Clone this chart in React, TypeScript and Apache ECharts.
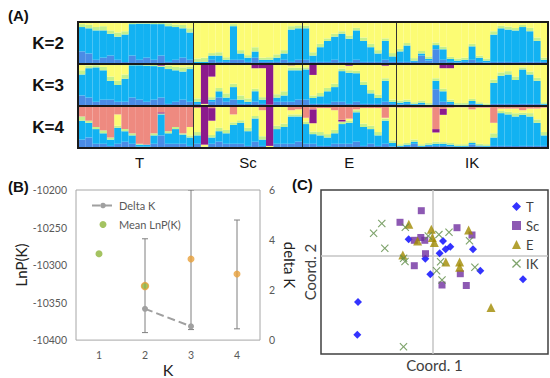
import React, { useEffect, useRef } from "react";
import * as echarts from "echarts";

// ---------- Panel A: STRUCTURE membership (fraction of each individual) ----------
const populations = ["T", "Sc", "E", "IK"];
const popSizes = [16, 15, 13, 21];

// K = 2 (yellow = remainder)
const k2MBlue = [0.3,0.25,0.1,0.15,0.2,0.1,0.05,0.2,0.1,0.15,0.1,0.2,0.05,0.1,0.15,0.1, 0,0,0.1,0.05,0.05,0.1,0.1,0.05,0.15,0.05,0.05,0.05,0.1,0.05,0.1, 0.1,0.05,0.05,0.05,0.1,0.05,0.05,0.1,0.05,0.05,0.05,0.1,0.05, 0.05,0.05,0.05,0.2,0.08,0.35,0.1,0.05,0.04,0.05,0.1,0.05,0.04,0.05,0.05,0.05,0.05,0.05,0.05,0.05,0.05];
const k2Blue = [0.58,0.6,0.7,0.65,0.52,0.55,0.65,0.75,0.86,0.81,0.85,0.75,0.85,0.78,0.7,0.65, 0.05,0.05,0.1,0.15,0.05,0.8,0.15,0.1,0.15,0.05,0.05,0.1,0.15,0.77,0.75, 0.75,0.15,0.35,0.5,0.55,0.67,0.55,0.7,0.5,0.35,0.2,0.45,0.13, 0.25,0.39,0.03,0.05,0.04,0.1,0.25,0.07,0.04,0.05,0.32,0.1,0.04,0.65,0.8,0.77,0.75,0.83,0.73,0.5,0.05];
const k2Green = [0.07,0.08,0.08,0.1,0.08,0.1,0.08,0.03,0.03,0.03,0.04,0.04,0.07,0.06,0.08,0.1, 0.08,0.1,0.06,0.08,0.06,0.05,0.08,0.06,0.1,0.05,0.06,0.08,0.08,0.08,0.07, 0.06,0.08,0.08,0.06,0.07,0.06,0.08,0.06,0.08,0.08,0.08,0.06,0.08, 0.06,0.06,0.06,0.06,0.06,0.06,0.06,0.05,0.05,0.05,0.06,0.05,0.05,0.08,0.06,0.07,0.06,0.05,0.08,0.08,0.05];

// K = 3
const k3MBlue = [0.25,0.2,0.1,0.15,0.15,0.1,0.1,0.2,0.15,0.1,0.15,0.2,0.05,0.1,0.15,0.1, 0.05,0,0.1,0.2,0.1,0.15,0.05,0.05,0.1,0.05,0,0.1,0.1,0.1,0.15, 0.15,0.05,0.05,0.05,0.1,0.1,0.05,0.1,0.05,0.05,0.05,0.1,0.05, 0.04,0.05,0.03,0.04,0.02,0.4,0.1,0.05,0.02,0.02,0.05,0.03,0.01,0.05,0.05,0.05,0.05,0.05,0.05,0.05,0.03];
const k3Blue = [0.5,0.7,0.82,0.7,0.45,0.4,0.55,0.77,0.82,0.86,0.8,0.73,0.83,0.75,0.67,0.78, 0.05,0.03,0.05,0.15,0.1,0.3,0.1,0.05,0.25,0.1,0,0.1,0.15,0.75,0.7, 0.72,0.14,0.18,0.3,0.35,0.73,0.74,0.68,0.45,0.25,0.14,0.5,0.05, 0.04,0.05,0.02,0.04,0.01,0.2,0.25,0.05,0.01,0.01,0.07,0.02,0.01,0.5,0.67,0.7,0.57,0.82,0.7,0.55,0.02];
const k3Green = [0.1,0.06,0.05,0.08,0.1,0.1,0.1,0.02,0.02,0.03,0.03,0.02,0.08,0.08,0.1,0.06, 0.08,0,0.06,0.08,0.1,0.08,0.1,0.08,0.06,0.06,0,0.08,0.1,0.06,0.06, 0.05,0.06,0.08,0.08,0.08,0.06,0.06,0.06,0.08,0.08,0.08,0.06,0.05, 0.05,0.05,0.04,0.05,0.04,0.06,0.06,0.05,0.04,0.04,0.05,0.04,0.04,0.08,0.08,0.08,0.08,0.05,0.07,0.07,0.04];
const k3Purple = [0,0,0,0,0,0,0,0,0,0,0,0.04,0,0,0,0.02, 0,0.95,0.3,0,0,0,0,0,0.1,0.1,0.97,0,0,0.03,0, 0,0.26,0,0,0,0,0.04,0,0,0,0,0.04,0, 0,0,0,0,0,0.02,0.1,0.1,0,0,0,0,0,0,0,0,0,0,0,0,0.02];

// K = 4
const k4MBlue = [0.2,0.25,0.1,0.1,0.05,0.1,0.15,0.1,0.03,0.03,0.1,0.3,0.1,0.1,0.1,0.05, 0.1,0,0.1,0.15,0.1,0.1,0.1,0.05,0.15,0.05,0,0.1,0.1,0.1,0.15, 0.1,0.1,0.05,0.05,0.1,0.1,0.1,0.15,0.05,0.1,0.05,0.1,0.04, 0.03,0.05,0.1,0.03,0.05,0.05,0.05,0.04,0.03,0.03,0.08,0.04,0.03,0.05,0.05,0.05,0.05,0.05,0.05,0.05,0.05];
const k4Blue = [0.45,0.35,0.35,0.25,0.15,0.38,0.25,0.2,0.05,0.05,0.2,0.5,0.25,0.35,0.22,0.2, 0.2,0.03,0.15,0.25,0.25,0.45,0.5,0.35,0.55,0.15,0,0.35,0.4,0.65,0.6, 0.47,0.23,0.25,0.2,0.25,0.47,0.5,0.7,0.45,0.35,0.25,0.55,0.08, 0.02,0.03,0.05,0.02,0.03,0.05,0.05,0.04,0.02,0.02,0.04,0.02,0.02,0.2,0.78,0.75,0.7,0.74,0.7,0.55,0.25];
const k4Green = [0.1,0.05,0.05,0.07,0.05,0.05,0.05,0.05,0.02,0,0.05,0.02,0.05,0.05,0.03,0.05, 0.08,0,0.06,0.08,0.08,0.06,0.06,0.08,0.06,0.08,0,0.08,0.08,0.05,0.05, 0.06,0.06,0.08,0.08,0.08,0.05,0.05,0.05,0.08,0.08,0.08,0.05,0.06, 0.04,0.04,0.05,0.04,0.04,0.05,0.04,0.04,0.04,0.04,0.04,0.04,0.04,0.1,0.05,0.06,0.08,0.05,0.08,0.08,0.08];
const k4Purple = [0,0,0,0,0,0,0,0,0,0,0,0.03,0,0,0,0, 0,0.92,0.3,0,0,0,0,0,0,0,0.95,0,0,0,0, 0,0.33,0,0,0,0.04,0,0,0,0,0,0,0, 0,0,0,0,0,0.08,0.14,0,0,0,0,0,0,0,0,0,0,0,0,0,0];
const k4Salmon = [0.25,0.35,0.5,0.58,0.75,0.2,0.55,0.65,0.9,0.92,0.65,0.15,0.6,0.5,0.65,0.5, 0.05,0,0.05,0,0,0.2,0,0,0,0.1,0,0,0,0.1,0.08, 0.28,0.08,0.05,0.05,0.1,0.33,0.3,0.08,0.05,0.05,0.05,0.28,0.03, 0.04,0.04,0.04,0.04,0.04,0.55,0.07,0.04,0.03,0.03,0.08,0.04,0.04,0.4,0.06,0.06,0.06,0.1,0.06,0.06,0.04];

// ---------- Panel B ----------
const kLabels = ["1", "2", "3", "4"];
const meanLnP = [-10285, -10328, -10292, -10312];
const lnpLow = [null, -10390, -10386, -10385];
const lnpHigh = [null, -10265, -10200, -10240];
const deltaK = [null, 1.25, 0.55, null];

// ---------- Panel C (PCoA coordinates) ----------
const tPts = [[-0.244,0.167],[0.100,0.150],[0.066,0.027],[0.126,0.067],[0.173,0.093],[0.400,0.067],[-0.077,-0.027],[-0.027,-0.183],[0.473,-0.147],[0.900,-0.233],[-0.750,-0.460],[-0.757,-0.787]];
const scPts = [[-0.117,0.453],[-0.330,0.337],[0.240,0.283],[0.390,0.210],[-0.122,0.185],[-0.187,0.157],[-0.082,0.157],[-0.075,0.023],[-0.187,-0.097],[0.273,-0.177],[0.090,-0.290],[0.333,-0.295]];
const ePts = [[-0.242,0.317],[-0.017,0.267],[0.356,0.260],[-0.154,0.150],[-0.007,0.185],[0.013,0.135],[-0.302,0.010],[0.128,-0.060],[0.266,-0.060],[0.266,-0.113],[0.580,-0.515]];
const ikPts = [[-0.512,0.325],[-0.594,0.227],[-0.277,0.287],[-0.482,0.078],[0.059,0.214],[0.160,0.238],[0.365,0.153],[-0.294,-0.023],[-0.280,-0.055],[0.076,-0.057],[0.036,-0.148],[0.419,-0.113],[0.090,-0.240],[-0.295,-0.907],[-0.047,0.200]];

const C_MBLUE = "#4A8CE6";
const C_BLUE = "#12B2F2";
const C_GREEN = "#C4F08C";
const C_YELLOW = "#FCFC74";
const C_PURPLE = "#8C1A8C";
const C_SALMON = "#EE8A80";

const FONT_A = "'Liberation Sans', Arial, sans-serif";
const FONT_B = "Lato, 'Open Sans', sans-serif";

const individuals: string[] = [];
const labelAt: Record<number, string> = {};
const boundaries: number[] = [];
{
  let start = 0;
  populations.forEach((p, pi) => {
    for (let j = 0; j < popSizes[pi]; j++) individuals.push(p + (j + 1));
    labelAt[start + Math.floor(popSizes[pi] / 2)] = p;
    start += popSizes[pi];
    if (pi < populations.length - 1) boundaries.push(start);
  });
}

function remainder(layers: number[][]): number[] {
  return individuals.map((_, i) => Math.max(0, 1 - layers.reduce((s, a) => s + a[i], 0)));
}

function rowSeries(k: number, gi: number, layers: { color: string; data: number[] }[]) {
  return layers.map((l, li) => ({
    type: "bar",
    name: "K" + k + "_" + li,
    stack: "k" + k,
    xAxisIndex: gi,
    yAxisIndex: gi,
    data: l.data,
    barWidth: "100%",
    barCategoryGap: "0%",
    itemStyle: { color: l.color, borderWidth: 0 },
    silent: true,
    z: 2,
  }));
}

const IK_SYMBOL = "path://M0,1L1,0L5,4L9,0L10,1L6,5L10,9L9,10L5,6L1,10L0,9L4,5Z";

export default function App() {
  const ref = useRef<HTMLDivElement>(null);
  useEffect(() => {
    if (!ref.current) return;
    const chart = echarts.init(ref.current, undefined, { renderer: "svg" });

    const rowTops = [22, 64, 106];
    const rowGrids = rowTops.map((t) => ({
      left: 78, top: t, width: 470, height: 42, show: true,
      borderColor: "#1a1a1a", borderWidth: 2, z: 10, backgroundColor: "transparent",
    }));

    const rowX = rowTops.map((_, gi) => ({
      type: "category", gridIndex: gi, data: individuals,
      axisLine: { show: false }, axisTick: { show: false },
      axisLabel: gi === 2 ? {
        show: true, interval: 0, margin: 7, fontSize: 15, color: "#111", fontFamily: FONT_A,
        formatter: (_v: string, idx: number) => labelAt[idx] || "",
      } : { show: false },
    }));
    const rowY = rowTops.map((_, gi) => ({
      type: "value", gridIndex: gi, min: 0, max: 1, show: false,
    }));

    const k2Yellow = remainder([k2MBlue, k2Blue, k2Green]);
    const k3Yellow = remainder([k3MBlue, k3Blue, k3Green, k3Purple]);
    const k4Yellow = remainder([k4MBlue, k4Blue, k4Green, k4Purple, k4Salmon]);

    const series: any[] = [
      ...rowSeries(2, 0, [
        { color: C_MBLUE, data: k2MBlue }, { color: C_BLUE, data: k2Blue },
        { color: C_GREEN, data: k2Green }, { color: C_YELLOW, data: k2Yellow },
      ]),
      ...rowSeries(3, 1, [
        { color: C_MBLUE, data: k3MBlue }, { color: C_BLUE, data: k3Blue },
        { color: C_GREEN, data: k3Green }, { color: C_YELLOW, data: k3Yellow },
        { color: C_PURPLE, data: k3Purple },
      ]),
      ...rowSeries(4, 2, [
        { color: C_MBLUE, data: k4MBlue }, { color: C_BLUE, data: k4Blue },
        { color: C_GREEN, data: k4Green }, { color: C_YELLOW, data: k4Yellow },
        { color: C_PURPLE, data: k4Purple }, { color: C_SALMON, data: k4Salmon },
      ]),
      // population boundaries across the three rows
      {
        type: "scatter", xAxisIndex: 5, yAxisIndex: 6, data: [[0, -1]], symbolSize: 0, silent: true, z: 12,
        markLine: {
          silent: true, symbol: ["none", "none"], label: { show: false }, animation: false,
          lineStyle: { color: "#333", width: 1, type: "solid" },
          data: boundaries.map((b) => ({ xAxis: b })),
        },
      },
      // Panel B: error bars
      {
        type: "custom", xAxisIndex: 3, yAxisIndex: 3, silent: true, z: 1, clip: true,
        data: kLabels.map((_, i) => [i, lnpLow[i], lnpHigh[i]]).filter((d) => d[1] != null),
        encode: { x: 0, y: [1, 2] },
        renderItem: (_p: any, api: any) => {
          const x = api.value(0);
          const lo = api.coord([x, api.value(1)]);
          const hi = api.coord([x, api.value(2)]);
          const w = 3;
          const st = { stroke: "#7F7F7F", lineWidth: 1 };
          return {
            type: "group",
            children: [
              { type: "line", shape: { x1: lo[0], y1: lo[1], x2: hi[0], y2: hi[1] }, style: st },
              { type: "line", shape: { x1: lo[0] - w, y1: lo[1], x2: lo[0] + w, y2: lo[1] }, style: st },
              { type: "line", shape: { x1: hi[0] - w, y1: hi[1], x2: hi[0] + w, y2: hi[1] }, style: st },
            ],
          };
        },
      },
      {
        type: "line", name: "Delta K", xAxisIndex: 3, yAxisIndex: 4,
        data: deltaK.map((v) => (v == null ? "-" : v)),
        symbol: "circle", symbolSize: 6, showSymbol: true,
        lineStyle: { color: "#A0A0A0", width: 2, type: "dashed" },
        itemStyle: { color: "#A0A0A0" }, z: 3, silent: true,
      },
      {
        type: "scatter", name: "Mean LnP(K)", xAxisIndex: 3, yAxisIndex: 3, symbolSize: 7, z: 4, silent: true,
        itemStyle: { color: "#8DB43A" },
        data: [
          { value: meanLnP[0], itemStyle: { color: "#8DB43A" } },
          { value: meanLnP[1], itemStyle: { color: "#8DB43A", borderColor: "#E8A03A", borderWidth: 1.5 } },
          { value: meanLnP[2], itemStyle: { color: "#E8A03A" } },
          { value: meanLnP[3], itemStyle: { color: "#E8A03A" } },
        ],
      },
      // Panel C crosshair
      {
        type: "scatter", xAxisIndex: 4, yAxisIndex: 5, data: [], silent: true, z: 1,
        markLine: {
          silent: true, symbol: ["none", "none"], label: { show: false }, animation: false,
          lineStyle: { color: "#C4C4C4", width: 1.5, type: "solid" },
          data: [{ xAxis: 0 }, { yAxis: 0 }],
        },
      },
      { type: "scatter", name: "T", xAxisIndex: 4, yAxisIndex: 5, data: tPts, symbol: "diamond", symbolSize: 8, itemStyle: { color: "#0000FF" }, z: 5, silent: true },
      { type: "scatter", name: "Sc", xAxisIndex: 4, yAxisIndex: 5, data: scPts, symbol: "rect", symbolSize: 7, itemStyle: { color: "#7030A0" }, z: 5, silent: true },
      { type: "scatter", name: "E", xAxisIndex: 4, yAxisIndex: 5, data: ePts, symbol: "triangle", symbolSize: 9, itemStyle: { color: "#A08A00" }, z: 5, silent: true },
      { type: "scatter", name: "IK", xAxisIndex: 4, yAxisIndex: 5, data: ikPts, symbol: IK_SYMBOL, symbolSize: 8, itemStyle: { color: "#5E8C46" }, z: 5, silent: true },
    ];

    const grayLabel = { color: "#595959", fontSize: 10.5, fontFamily: FONT_B };

    const option: any = {
      animation: false,
      backgroundColor: "#ffffff",
      textStyle: { fontFamily: FONT_B },
      grid: [
        ...rowGrids,
        { left: 76, top: 190, width: 184, height: 155, show: true, borderColor: "#A6A6A6", borderWidth: 1 },
        { left: 321, top: 190, width: 227, height: 164, show: true, borderColor: "#404040", borderWidth: 1.5 },
        { left: 78, top: 22, width: 470, height: 126, show: false },
      ],
      xAxis: [
        ...rowX,
        {
          type: "category", gridIndex: 3, data: kLabels,
          axisLine: { show: false }, axisTick: { show: false },
          axisLabel: { ...grayLabel, margin: 9 },
          name: "K", nameLocation: "middle", nameGap: 13,
          nameTextStyle: { fontSize: 16, color: "#222", fontFamily: FONT_B },
        },
        {
          type: "value", gridIndex: 4, min: -1.12, max: 1.15,
          axisLine: { show: false, onZero: false }, axisTick: { show: false }, axisLabel: { show: false },
          splitLine: { show: false },
          name: "Coord. 1", nameLocation: "middle", nameGap: 3,
          nameTextStyle: { fontSize: 15, color: "#404040", fontFamily: FONT_B },
        },
        { type: "value", gridIndex: 5, min: 0, max: individuals.length, show: false },
      ],
      yAxis: [
        ...rowY,
        {
          type: "value", gridIndex: 3, min: -10400, max: -10200, interval: 50,
          axisLine: { show: false }, axisTick: { show: false }, splitLine: { show: false },
          axisLabel: { ...grayLabel, margin: 9, formatter: (v: number) => String(v) },
          name: "LnP(K)", nameLocation: "middle", nameGap: 40,
          nameTextStyle: { fontSize: 15, color: "#222", fontFamily: FONT_B },
        },
        {
          type: "value", gridIndex: 3, position: "right", min: 0, max: 6, interval: 2,
          axisLine: { show: false }, axisTick: { show: false }, splitLine: { show: false },
          axisLabel: { ...grayLabel, margin: 9 },
          name: "delta K", nameLocation: "middle", nameGap: 22, nameRotate: -90,
          nameTextStyle: { fontSize: 15, color: "#222", fontFamily: FONT_B },
        },
        {
          type: "value", gridIndex: 4, min: -0.98, max: 0.66,
          axisLine: { show: false, onZero: false }, axisTick: { show: false }, axisLabel: { show: false },
          splitLine: { show: false },
          name: "Coord. 2", nameLocation: "middle", nameGap: 4,
          nameTextStyle: { fontSize: 15, color: "#404040", fontFamily: FONT_B },
        },
        { type: "value", gridIndex: 5, min: 0, max: 1, show: false },
      ],
      legend: [
        {
          data: ["Delta K", "Mean LnP(K)"], left: 86, top: 195, orient: "vertical",
          itemWidth: 22, itemHeight: 7, itemGap: 8,
          textStyle: { color: "#595959", fontSize: 11, fontFamily: FONT_B },
          selectedMode: false,
        },
        {
          data: ["T", "Sc", "E", "IK"], left: 507, top: 195, orient: "vertical",
          itemWidth: 9, itemHeight: 9, itemGap: 6,
          textStyle: { color: "#404040", fontSize: 13, fontFamily: FONT_B },
          selectedMode: false,
        },
      ],
      graphic: [
        { type: "text", x: 8, y: 8, style: { text: "(A)", font: "bold 15px " + FONT_A, fill: "#111" } },
        { type: "text", x: 8, y: 179, style: { text: "(B)", font: "bold 15px " + FONT_A, fill: "#111" } },
        { type: "text", x: 292, y: 177, style: { text: "(C)", font: "bold 15px " + FONT_A, fill: "#111" } },
        { type: "text", x: 64, y: 43, style: { text: "K=2", font: "bold 17px " + FONT_A, fill: "#111", align: "right", verticalAlign: "middle" } },
        { type: "text", x: 64, y: 85, style: { text: "K=3", font: "bold 17px " + FONT_A, fill: "#111", align: "right", verticalAlign: "middle" } },
        { type: "text", x: 64, y: 127, style: { text: "K=4", font: "bold 17px " + FONT_A, fill: "#111", align: "right", verticalAlign: "middle" } },
      ],
      series,
    };
    chart.setOption(option);
    return () => chart.dispose();
  }, []);
  return (
    <div
      ref={ref}
      style={{ position: "absolute", left: 0, top: 0, width: 550, height: 378, background: "#fff" }}
    />
  );
}
